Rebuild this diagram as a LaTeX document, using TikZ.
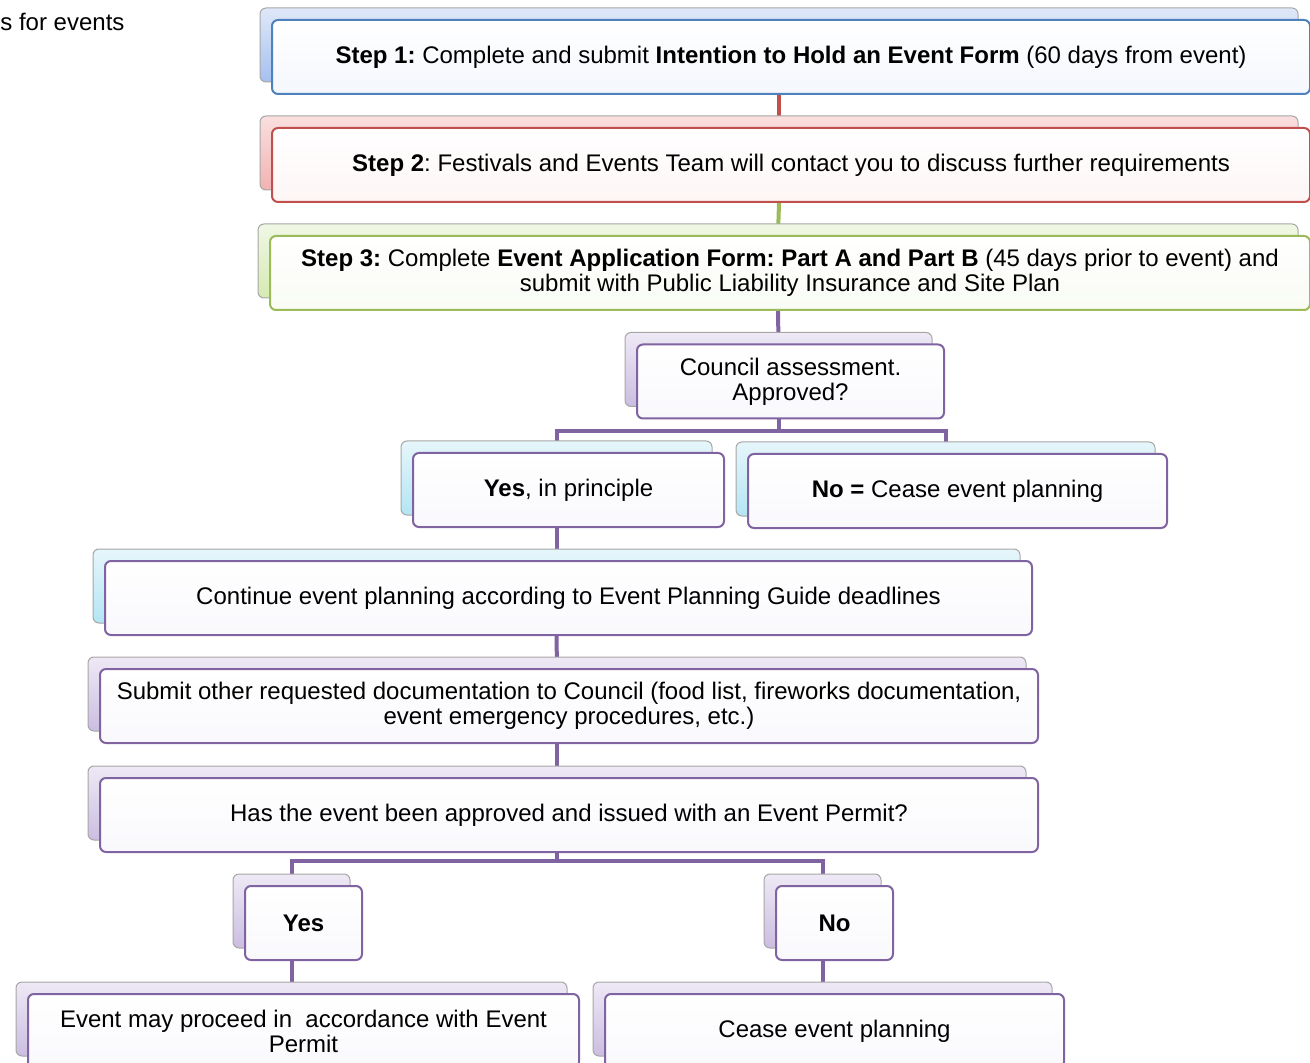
\documentclass[tikz,border=0pt]{standalone}
\usepackage{fontspec}
\setmainfont{Liberation Sans}
\usepackage{tikz}
\usepackage{xcolor}
\usetikzlibrary{shadows}

\definecolor{bluebd}{HTML}{4F81BD}
\definecolor{redbd}{HTML}{C0504D}
\definecolor{greenbd}{HTML}{9BBB59}
\definecolor{purplebd}{HTML}{8064A2}
\definecolor{plategray}{HTML}{A6A6A6}
\definecolor{bluetop}{HTML}{DFE8F8}
\definecolor{bluebot}{HTML}{A5C0F0}
\definecolor{redtop}{HTML}{FADFDF}
\definecolor{redbot}{HTML}{F2B2B2}
\definecolor{greentop}{HTML}{F0F7E4}
\definecolor{greenbot}{HTML}{D5EAB2}
\definecolor{lavtop}{HTML}{EEE9F5}
\definecolor{lavbot}{HTML}{CBBDE1}
\definecolor{cyantop}{HTML}{E6F6FB}
\definecolor{cyanbot}{HTML}{B3E5F3}
\definecolor{bluefr}{HTML}{F4F7FD}
\definecolor{redfr}{HTML}{FDF6F5}
\definecolor{greenfr}{HTML}{F9FBF4}
\definecolor{purplefr}{HTML}{F9F8FC}

\pgfdeclarelayer{background}
\pgfsetlayers{background,main}

\begin{document}
\frenchspacing
\begin{tikzpicture}[x=0.5pt,y=-0.5pt,font=\fontsize{12}{12.5}\selectfont]%
  \useasboundingbox (0,0) rectangle (1310,1063);
  \tikzstyle{box}=[rectangle,rounded corners=3pt,line width=1pt,align=center,inner sep=2pt,minimum height=37pt]
  \tikzstyle{bluebox}=[box,draw=bluebd,top color=white,bottom color=bluefr,
    general shadow={shadow xshift=-6pt,shadow yshift=6pt,draw=plategray,line width=0.5pt,top color=bluetop,bottom color=bluebot}]
  \tikzstyle{redbox}=[box,draw=redbd,top color=white,bottom color=redfr,
    general shadow={shadow xshift=-6pt,shadow yshift=6pt,draw=plategray,line width=0.5pt,top color=redtop,bottom color=redbot}]
  \tikzstyle{greenbox}=[box,draw=greenbd,top color=white,bottom color=greenfr,
    general shadow={shadow xshift=-6pt,shadow yshift=6pt,draw=plategray,line width=0.5pt,top color=greentop,bottom color=greenbot}]
  \tikzstyle{lavbox}=[box,draw=purplebd,top color=white,bottom color=purplefr,
    general shadow={shadow xshift=-6pt,shadow yshift=6pt,draw=plategray,line width=0.5pt,top color=lavtop,bottom color=lavbot}]
  \tikzstyle{cyanbox}=[box,draw=purplebd,top color=white,bottom color=purplefr,
    general shadow={shadow xshift=-6pt,shadow yshift=6pt,draw=plategray,line width=0.5pt,top color=cyantop,bottom color=cyanbot}]
  \tikzstyle{conn}=[line width=2pt,draw=purplebd]
  \node(title)[anchor=west,inner sep=0pt] at (0,22) {s for events};
  % steps
  \node(s1)[bluebox,minimum width=519pt] at (791,57)
    {\textbf{Step 1:} Complete and submit \textbf{Intention to Hold an Event Form} (60 days from event)};
  \node(s2)[redbox,minimum width=519pt] at (791,165)
    {\textbf{Step 2}: Festivals and Events Team will contact you to discuss further requirements};
  \node(s3)[greenbox,minimum width=520pt] at (790,273)
    {\textbf{Step 3:} Complete \textbf{Event Application Form: Part A and Part B} (45 days prior to event) and\\
     submit with Public Liability Insurance and Site Plan};
  \node(ca)[lavbox,minimum width=153.5pt] at (790.5,381.5) {Council assessment.\\ Approved?};
  \node(yp)[cyanbox,minimum width=155.5pt] at (568.5,490) {\textbf{Yes}, in principle};
  \node(nc)[cyanbox,minimum width=209.5pt] at (957.5,491) {\textbf{No =} Cease event planning};
  \node(cp)[cyanbox,minimum width=463.5pt] at (568.5,598)
    {Continue event planning according to Event Planning Guide deadlines};
  \node(sd)[lavbox,minimum width=469pt] at (569,706)
    {Submit other requested documentation to Council (food list, fireworks documentation,\\
     event emergency procedures, etc.)};
  \node(ha)[lavbox,minimum width=469pt] at (569,815)
    {Has the event been approved and issued with an Event Permit?};
  \node(ye)[lavbox,minimum width=58.5pt] at (303.5,923) {\textbf{Yes}};
  \node(no)[lavbox,minimum width=58.5pt] at (834.5,923) {\textbf{No}};
  \node(ep)[lavbox,minimum width=275.5pt] at (303.5,1031)
    {Event may proceed in \ accordance with Event\\ Permit};
  \node(cs)[lavbox,minimum width=229.5pt] at (834.5,1031) {Cease event planning};
  \coordinate(j1) at (778.5,431);
  \coordinate(j2) at (557,861);
  % connectors behind the boxes
  \begin{pgfonlayer}{background}
    \draw[conn,draw=redbd] ([xshift=-6pt]s1.south) -- ([xshift=-6pt]s2.north);
    \draw[conn,draw=greenbd] ([xshift=-6pt]s2.south) -- ([xshift=-6pt]s3.north);
    \draw[conn] ([xshift=-6pt]s3.south) -- ([xshift=-6pt]ca.north);
    \draw[conn] ([xshift=-6pt]ca.south) -- (j1) -| ([xshift=-6pt]yp.north);
    \draw[conn] (j1) -| ([xshift=-6pt]nc.north);
    \draw[conn] ([xshift=-6pt]yp.south) -- ([xshift=-6pt]cp.north);
    \draw[conn] ([xshift=-6pt]cp.south) -- ([xshift=-6pt]sd.north);
    \draw[conn] ([xshift=-6pt]sd.south) -- ([xshift=-6pt]ha.north);
    \draw[conn] ([xshift=-6pt]ha.south) -- (j2) -| ([xshift=-6pt]ye.north);
    \draw[conn] (j2) -| ([xshift=-6pt]no.north);
    \draw[conn] ([xshift=-6pt]ye.south) -- ([xshift=-6pt]ep.north);
    \draw[conn] ([xshift=-6pt]no.south) -- ([xshift=-6pt]cs.north);
  \end{pgfonlayer}
\end{tikzpicture}
\end{document}
